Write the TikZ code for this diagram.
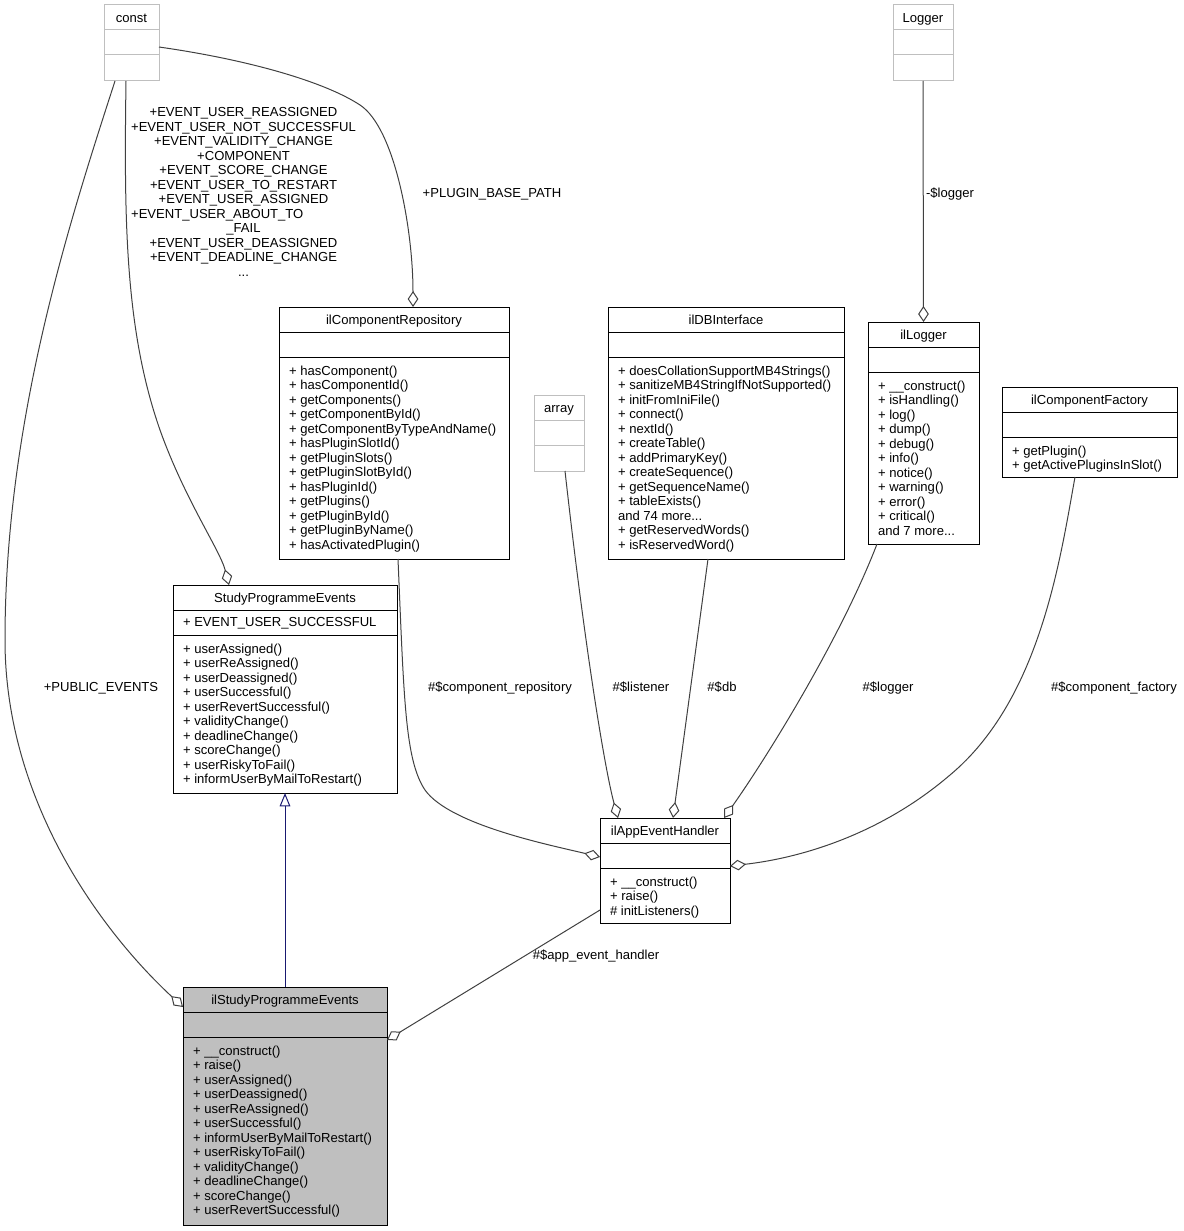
\documentclass[tikz,border=0pt]{standalone}
\usepackage{fontspec}
\usepackage{calc}
\setmainfont{Liberation Sans}
\usetikzlibrary{arrows.meta,calc}
\definecolor{edgegray}{HTML}{404040}
\definecolor{boxgray}{HTML}{BFBFBF}
\definecolor{inhblue}{HTML}{191970}
\tikzset{
  umlfont/.style={font=\fontsize{9.8}{10.875}\selectfont},
  classbox/.style={draw=black, fill=white, line width=0.75pt, inner sep=0pt, outer sep=0pt},
  extbox/.style={draw=boxgray, fill=white, line width=0.75pt, inner sep=0pt, outer sep=0pt},
  focusbox/.style={draw=black, fill=boxgray, line width=0.75pt, inner sep=0pt, outer sep=0pt},
  txt/.style={inner sep=0pt, outer sep=0pt, umlfont},
  agg/.style={draw=edgegray, line width=0.75pt, -{Diamond[open,length=12pt,width=8pt]}},
  inh/.style={draw=inhblue, line width=0.75pt, -{Triangle[open,length=10pt,width=8pt]}},
  elabel/.style={txt, anchor=base},
}
% #1 name, #2 x1, #3 y1, #4 x2, #5 y2, #6 style, #7 title, #8 attributes, #9 operations
\newcommand\umlbox[9]{%
  \node[#6, minimum width={(#4-#2)*0.75pt}, minimum height={(#5-#3)*0.75pt}, anchor=north west] (#1) at (#2,#3) {};
  \draw[#6, fill=none] (#2,{#3+25}) -- (#4,{#3+25}) (#2,{#3+50}) -- (#4,{#3+50});
  \node[txt, anchor=base] (#1-title) at ({(#2+#4)/2},{#3+17.2}) {#7};
  \node[txt, anchor=base west] (#1-attr) at ({#2+10},{#3+41.8}) {#8};
  \node[txt, anchor=north west, align=left] (#1-ops) at ({#2+10},{#3+58.7}) {#9};
}
\begin{document}
\begin{tikzpicture}[x=0.75pt, y=-0.75pt]
\useasboundingbox (0,0) rectangle (1183,1231);

% classes
\umlbox{const}{104}{5}{159}{81}{extbox}{const}{}{}
\umlbox{logger}{893}{5}{953}{81}{extbox}{Logger}{}{}
\umlbox{crep}{279}{307}{509}{559}{classbox}{ilComponentRepository}{}{%
+ hasComponent()\\
+ hasComponentId()\\
+ getComponents()\\
+ getComponentById()\\
+ getComponentByTypeAndName()\\
+ hasPluginSlotId()\\
+ getPluginSlots()\\
+ getPluginSlotById()\\
+ hasPluginId()\\
+ getPlugins()\\
+ getPluginById()\\
+ getPluginByName()\\
+ hasActivatedPlugin()}
\umlbox{dbi}{608}{307}{844}{559}{classbox}{ilDBInterface}{}{%
+ doesCollationSupportMB4Strings()\\
+ sanitizeMB4StringIfNotSupported()\\
+ initFromIniFile()\\
+ connect()\\
+ nextId()\\
+ createTable()\\
+ addPrimaryKey()\\
+ createSequence()\\
+ getSequenceName()\\
+ tableExists()\\
and 74 more...\\
+ getReservedWords()\\
+ isReservedWord()}
\umlbox{illogger}{868}{322}{979}{544}{classbox}{ilLogger}{}{%
+ \_\_construct()\\
+ isHandling()\\
+ log()\\
+ dump()\\
+ debug()\\
+ info()\\
+ notice()\\
+ warning()\\
+ error()\\
+ critical()\\
and 7 more...}
\umlbox{array}{534}{395}{584}{471}{extbox}{array}{}{}
\umlbox{factory}{1002}{387}{1177}{477}{classbox}{ilComponentFactory}{}{%
+ getPlugin()\\
+ getActivePluginsInSlot()}
\umlbox{spe}{173}{585}{397}{793}{classbox}{StudyProgrammeEvents}{+ EVENT\_USER\_SUCCESSFUL}{%
+ userAssigned()\\
+ userReAssigned()\\
+ userDeassigned()\\
+ userSuccessful()\\
+ userRevertSuccessful()\\
+ validityChange()\\
+ deadlineChange()\\
+ scoreChange()\\
+ userRiskyToFail()\\
+ informUserByMailToRestart()}
\umlbox{aeh}{600}{818}{730}{923}{classbox}{ilAppEventHandler}{}{%
+ \_\_construct()\\
+ raise()\\
\# initListeners()}
\umlbox{ispe}{183}{987}{387}{1225}{focusbox}{ilStudyProgrammeEvents}{}{%
+ \_\_construct()\\
+ raise()\\
+ userAssigned()\\
+ userDeassigned()\\
+ userReAssigned()\\
+ userSuccessful()\\
+ informUserByMailToRestart()\\
+ userRiskyToFail()\\
+ validityChange()\\
+ deadlineChange()\\
+ scoreChange()\\
+ userRevertSuccessful()}

% connectors
\draw[agg] ($(const.south west)+(11,0)$) .. controls (70,220) and (5,420) .. (5,640)
  .. controls (5,800) and (100,930) .. ($(ispe.north west)+(0,20)$);
\node[elabel] (l-public) at (101,691.7) {+PUBLIC\_EVENTS};

\draw[agg] ($(const.south west)+(22,0)$) .. controls (124,220) and (125,330) .. (160,430)
  .. controls (185,500) and (220,550) .. ($(spe.north west)+(56,0)$);
\node[txt, align=center, anchor=north] (l-const) at (243.5,107.6) {%
+EVENT\_USER\_REASSIGNED\\
+EVENT\_USER\_NOT\_SUCCESSFUL\\
+EVENT\_VALIDITY\_CHANGE\\
+COMPONENT\\
+EVENT\_SCORE\_CHANGE\\
+EVENT\_USER\_TO\_RESTART\\
+EVENT\_USER\_ASSIGNED\\
\makebox[\widthof{+EVENT\_USER\_NOT\_SUCCESSFUL}][l]{+EVENT\_USER\_ABOUT\_TO}\\
\_FAIL\\
+EVENT\_USER\_DEASSIGNED\\
+EVENT\_DEADLINE\_CHANGE\\
...};

\draw[agg] ($(const.east)+(0,4)$) .. controls (250,60) and (325,82) .. (360,105)
  .. controls (395,128) and (413,230) .. ($(crep.north west)+(134,0)$);
\node[elabel] (l-plugin) at (492,197.7) {+PLUGIN\_BASE\_PATH};

\draw[agg] (logger.south) -- (illogger.north);
\node[elabel] (l-logger) at (950,197.7) {-\$logger};

\draw[agg] ($(crep.south west)+(119,0)$) .. controls (404,700) and (405,760) .. (425,790)
  .. controls (450,825) and (550,845) .. ($(aeh.north west)+(0,39)$);
\node[elabel] (l-crep) at (500,691.7) {\#\$component\_repository};

\draw[agg] ($(array.south west)+(31,0)$) .. controls (585,650) and (605,770) .. ($(aeh.north west)+(18,0)$);
\node[elabel] (l-listener) at (641,691.7) {\#\$listener};

\draw[agg] ($(dbi.south west)+(100,0)$) -- ($(aeh.north west)+(73,0)$);
\node[elabel] (l-db) at (722,691.7) {\#\$db};

\draw[agg] ($(illogger.south west)+(9,0)$) .. controls (840,640) and (765,760) .. ($(aeh.north east)+(-6,0)$);
\node[elabel] (l-illogger) at (888,691.7) {\#\$logger};

\draw[agg] ($(factory.south west)+(73,0)$) .. controls (1060,560) and (1040,700) .. (950,775)
  .. controls (880,835) and (800,858) .. ($(aeh.north east)+(0,48)$);
\node[elabel] (l-factory) at (1114,691.7) {\#\$component\_factory};

\draw[agg] ($(aeh.south west)+(0,-13)$) -- ($(ispe.north east)+(0,53)$);
\node[elabel] (l-aeh) at (596,959.7) {\#\$app\_event\_handler};

\draw[inh] ($(ispe.north west)+(102,0)$) -- ($(spe.south west)+(112,0)$);
\end{tikzpicture}
\end{document}
